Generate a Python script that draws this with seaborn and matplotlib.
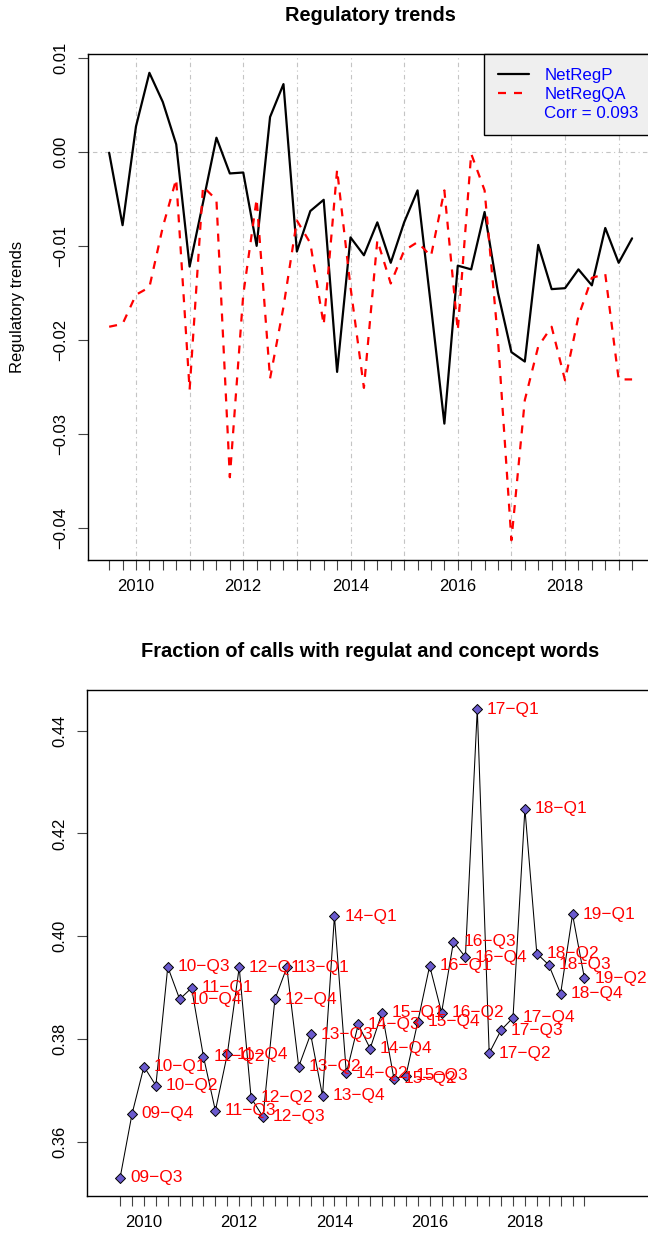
# Regulatory trends (top) and fraction of calls with regulat/concept words (bottom)
import numpy as np
import pandas as pd
import matplotlib
matplotlib.use("Agg")
import matplotlib.pyplot as plt
from matplotlib.lines import Line2D
import seaborn as sns

# quarters 09-Q3 .. 19-Q2
quarters = ["09-Q3", "09-Q4",
            "10-Q1", "10-Q2", "10-Q3", "10-Q4",
            "11-Q1", "11-Q2", "11-Q3", "11-Q4",
            "12-Q1", "12-Q2", "12-Q3", "12-Q4",
            "13-Q1", "13-Q2", "13-Q3", "13-Q4",
            "14-Q1", "14-Q2", "14-Q3", "14-Q4",
            "15-Q1", "15-Q2", "15-Q3", "15-Q4",
            "16-Q1", "16-Q2", "16-Q3", "16-Q4",
            "17-Q1", "17-Q2", "17-Q3", "17-Q4",
            "18-Q1", "18-Q2", "18-Q3", "18-Q4",
            "19-Q1", "19-Q2"]

net_reg_p = [-0.0001, -0.0078,
             0.0027, 0.0084, 0.0053, 0.0008,
             -0.0122, -0.0054, 0.0015, -0.0023,
             -0.0022, -0.0100, 0.0037, 0.0072,
             -0.0106, -0.0063, -0.0051, -0.0234,
             -0.0091, -0.0110, -0.0075, -0.0118,
             -0.0075, -0.0041, -0.0164, -0.0289,
             -0.0121, -0.0125, -0.0064, -0.0150,
             -0.0213, -0.0223, -0.0099, -0.0146,
             -0.0145, -0.0125, -0.0142, -0.0081,
             -0.0118, -0.0092]

net_reg_qa = [-0.0186, -0.0183,
              -0.0152, -0.0144, -0.0080, -0.0029,
              -0.0253, -0.0037, -0.0051, -0.0346,
              -0.0152, -0.0050, -0.0241, -0.0165,
              -0.0073, -0.0097, -0.0184, -0.0019,
              -0.0144, -0.0251, -0.0094, -0.0140,
              -0.0105, -0.0096, -0.0111, -0.0041,
              -0.0190, -0.0002, -0.0041, -0.0200,
              -0.0413, -0.0264, -0.0207, -0.0186,
              -0.0243, -0.0175, -0.0134, -0.0130,
              -0.0242, -0.0242]

frac_calls = [0.3530, 0.3654,
              0.3746, 0.3709, 0.3940, 0.3877,
              0.3899, 0.3765, 0.3660, 0.3770,
              0.3939, 0.3685, 0.3648, 0.3877,
              0.3939, 0.3746, 0.3809, 0.3689,
              0.4039, 0.3733, 0.3828, 0.3781,
              0.3851, 0.3722, 0.3728, 0.3833,
              0.3942, 0.3851, 0.3989, 0.3959,
              0.4442, 0.3772, 0.3817, 0.3841,
              0.4248, 0.3966, 0.3944, 0.3888,
              0.4042, 0.3918]

year_labels = [2010, 2012, 2014, 2016, 2018]
grid_years = [2010, 2011, 2012, 2013, 2014, 2015, 2016, 2017, 2018, 2019]
top_yticks = [0.01, 0.0, -0.01, -0.02, -0.03, -0.04]
top_yticklabels = ["0.01", "0.00", "\u22120.01", "\u22120.02", "\u22120.03", "\u22120.04"]
bot_yticks = [0.36, 0.38, 0.40, 0.42, 0.44]
bot_yticklabels = ["0.36", "0.38", "0.40", "0.42", "0.44"]
corr_label = "Corr = 0.093"


def quarter_time(lab):
    yy, q = lab.split("-Q")
    return 2000 + int(yy) + (int(q) - 1) / 4


df = pd.DataFrame({
    "quarter": quarters,
    "time": [quarter_time(q) for q in quarters],
    "NetRegP": net_reg_p,
    "NetRegQA": net_reg_qa,
    "frac": frac_calls,
})

sns.set_theme(style="white")
plt.rcParams["font.family"] = ["Liberation Sans", "DejaVu Sans"]
plt.rcParams["axes.unicode_minus"] = True
plt.rcParams["text.color"] = "black"
plt.rcParams["axes.labelcolor"] = "black"

W, H = 648, 1239
fig = plt.figure(figsize=(W / 100, H / 100), dpi=100)
ax1 = fig.add_axes([88.3 / W, 1 - 560 / H, (653 - 88.3) / W, 506 / H])
ax2 = fig.add_axes([87.3 / W, 1 - 1196 / H, (653 - 87.3) / W, 506 / H])

dotdash = (0, (1, 3, 4, 3))
red_dash = (0, (3.6, 3.6))

# ---- top panel
for yr in grid_years:
    ax1.axvline(yr, color="#c4c4c4", lw=0.8, ls=dotdash, zorder=0)
ax1.axhline(0, color="#c4c4c4", lw=0.8, ls=dotdash, zorder=0)

sns.lineplot(data=df, x="time", y="NetRegP", ax=ax1, color="black", lw=1.6,
             sort=False, estimator=None)
sns.lineplot(data=df, x="time", y="NetRegQA", ax=ax1, color="red", lw=1.6,
             linestyle=red_dash, sort=False, estimator=None)

ax1.set_xlim(2009.111, 2019.64)
ax1.set_ylim(-0.0434, 0.0104)
ax1.set_yticks(top_yticks, top_yticklabels, rotation=90, va="center")
ax1.set_xlabel("")
ax1.set_ylabel("")
ax1.text(-0.1245, 0.5, "Regulatory trends", transform=ax1.transAxes,
         rotation=90, ha="center", va="center", fontsize=12, color="black")
ax1.text(0.5, 1.077, "Regulatory trends", transform=ax1.transAxes,
         ha="center", va="center", fontsize=14.4, fontweight="bold",
         color="black")

h1 = Line2D([], [], color="black", lw=1.6)
h2 = Line2D([], [], color="red", lw=1.6, ls=red_dash)
h3 = Line2D([], [], color="none")
leg = ax1.legend([h1, h2, h3], ["NetRegP", "NetRegQA", corr_label],
                 loc="upper right", borderaxespad=0, frameon=True, fancybox=False,
                 facecolor="#efefef", edgecolor="black", framealpha=1,
                 handlelength=1.8, handletextpad=0.9, borderpad=0.85,
                 labelspacing=0.22, fontsize=12.2, labelcolor="blue")
leg.get_frame().set_linewidth(1.0)

# ---- bottom panel
sns.lineplot(data=df, x="time", y="frac", ax=ax2, color="black", lw=0.75,
             sort=False, estimator=None, zorder=2)
sns.scatterplot(data=df, x="time", y="frac", ax=ax2, marker="D", s=26,
                color="#6a5acd", edgecolor="black", linewidth=0.7, zorder=3)
for q, t, v in zip(df["quarter"], df["time"], df["frac"]):
    ax2.annotate(q.replace("-", "\u2212"), (t, v), xytext=(7, 0),
                 textcoords="offset points", color="red", fontsize=12.4,
                 ha="left", va="center", zorder=4)

ax2.set_xlim(2008.81, 2020.69)
ax2.set_ylim(0.3494, 0.4479)
ax2.set_yticks(bot_yticks, bot_yticklabels, rotation=90, va="center")
ax2.set_xlabel("")
ax2.set_ylabel("")
ax2.text(0.5, 1.077, "Fraction of calls with regulat and concept words",
         transform=ax2.transAxes, ha="center", va="center", fontsize=14.4,
         fontweight="bold", color="black")

# ---- shared axis styling
for ax in (ax1, ax2):
    ax.set_xticks(df["time"],
                  [str(int(t)) if t in year_labels else "" for t in df["time"]])
    ax.tick_params(axis="both", direction="out", length=7, width=0.8,
                   color="#444444", labelsize=12, labelcolor="black",
                   bottom=True, left=True)
    ax.tick_params(axis="x", pad=7)
    ax.tick_params(axis="y", pad=7.5)
    for sp in ax.spines.values():
        sp.set_color("black")
        sp.set_linewidth(1.0)
    ax.grid(False)

fig.savefig("out.png", dpi=100)
